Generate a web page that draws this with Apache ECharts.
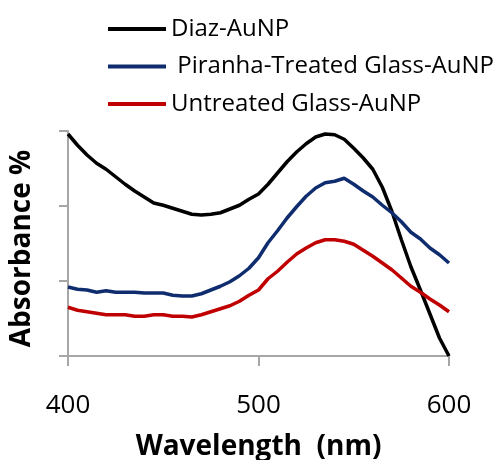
<!DOCTYPE html>
<html>
<head>
<meta charset="utf-8">
<script src="https://cdn.jsdelivr.net/npm/echarts@6/dist/echarts.min.js"></script>
<style>
  html, body { margin: 0; padding: 0; background: #fff; }
  #chart { width: 499px; height: 460px; }
</style>
</head>
<body>
<div id="chart"></div>
<script>
// wavelength (nm), 5 nm steps
var wavelength = [400, 405, 410, 415, 420, 425, 430, 435, 440, 445,
    450, 455, 460, 465, 470, 475, 480, 485, 490, 495,
    500, 505, 510, 515, 520, 525, 530, 535, 540, 545,
    550, 555, 560, 565, 570, 575, 580, 585, 590, 595, 600]

var diaz = [2.96, 2.81, 2.68, 2.57, 2.49, 2.39, 2.29, 2.20, 2.12, 2.04,
    2.01, 1.97, 1.93, 1.89, 1.88, 1.89, 1.91, 1.96, 2.01, 2.09,
    2.16, 2.29, 2.44, 2.59, 2.72, 2.83, 2.92, 2.96, 2.95, 2.89,
    2.77, 2.64, 2.49, 2.25, 1.93, 1.55, 1.19, 0.88, 0.56, 0.24, 0.00]

var piranha = [0.92, 0.89, 0.88, 0.85, 0.87, 0.85, 0.85, 0.85, 0.84, 0.84,
    0.84, 0.81, 0.80, 0.80, 0.83, 0.88, 0.93, 0.99, 1.07, 1.17,
    1.31, 1.51, 1.67, 1.84, 1.99, 2.13, 2.24, 2.31, 2.33, 2.37,
    2.29, 2.20, 2.12, 2.01, 1.91, 1.79, 1.65, 1.56, 1.44, 1.35, 1.24]

var untreated = [0.65, 0.61, 0.59, 0.57, 0.55, 0.55, 0.55, 0.53, 0.53, 0.55,
    0.55, 0.53, 0.53, 0.52, 0.55, 0.59, 0.63, 0.67, 0.73, 0.81,
    0.88, 1.03, 1.13, 1.25, 1.36, 1.44, 1.51, 1.55, 1.55, 1.53,
    1.49, 1.41, 1.33, 1.24, 1.15, 1.04, 0.93, 0.85, 0.76, 0.68, 0.59]

var names = ['Diaz-AuNP', ' Piranha-Treated Glass-AuNP', 'Untreated Glass-AuNP']
var colors = ['#000000', '#0f2d6e', '#c00000']

function pairs(ys) {
    return wavelength.map(function(x, i) { return [x, ys[i]] })
}

var font = '"Open Sans", sans-serif'
var axisGray = '#a6a6a6'

var myChart = echarts.init(document.getElementById('chart'))
var option = {
    animation: false,
    backgroundColor: '#fff',
    grid: { left: 68, right: 50, top: 131, bottom: 104, outerBoundsMode: 'none', containLabel: false },
    legend: {
        orient: 'vertical',
        left: 103,
        top: 11,
        icon: 'rect',
        itemWidth: 58,
        itemHeight: 4,
        itemGap: 11.5,
        textStyle: { fontFamily: font, fontSize: 24, color: '#000', lineHeight: 26 },
        data: names
    },
    xAxis: {
        type: 'value',
        min: 400,
        max: 600,
        interval: 100,
        name: 'Wavelength  (nm)',
        nameLocation: 'middle',
        nameGap: 77,
        nameTextStyle: { fontFamily: font, fontSize: 28, fontWeight: 'bold', color: '#000' },
        axisLine: { lineStyle: { color: axisGray, width: 2 } },
        axisTick: { show: true, length: 10, lineStyle: { color: axisGray, width: 2 } },
        axisLabel: { fontFamily: font, fontSize: 26, color: '#000', margin: 37 },
        splitLine: { show: false }
    },
    yAxis: {
        type: 'value',
        min: 0,
        max: 3,
        interval: 1,
        name: 'Absorbance %',
        nameLocation: 'middle',
        nameGap: 32,
        nameTextStyle: { fontFamily: font, fontSize: 28, fontWeight: 'bold', color: '#000', padding: [0, 10, 0, 0] },
        axisLine: { show: true, lineStyle: { color: axisGray, width: 2 } },
        axisTick: { show: true, length: 9, lineStyle: { color: axisGray, width: 2 } },
        axisLabel: { show: false },
        splitLine: { show: false }
    },
    series: [diaz, piranha, untreated].map(function(ys, i) {
        return {
            name: names[i],
            type: 'line',
            symbol: 'none',
            data: pairs(ys),
            lineStyle: { color: colors[i], width: 3.5 },
            itemStyle: { color: colors[i] }
        }
    })
}
myChart.setOption(option)
</script>
</body>
</html>
